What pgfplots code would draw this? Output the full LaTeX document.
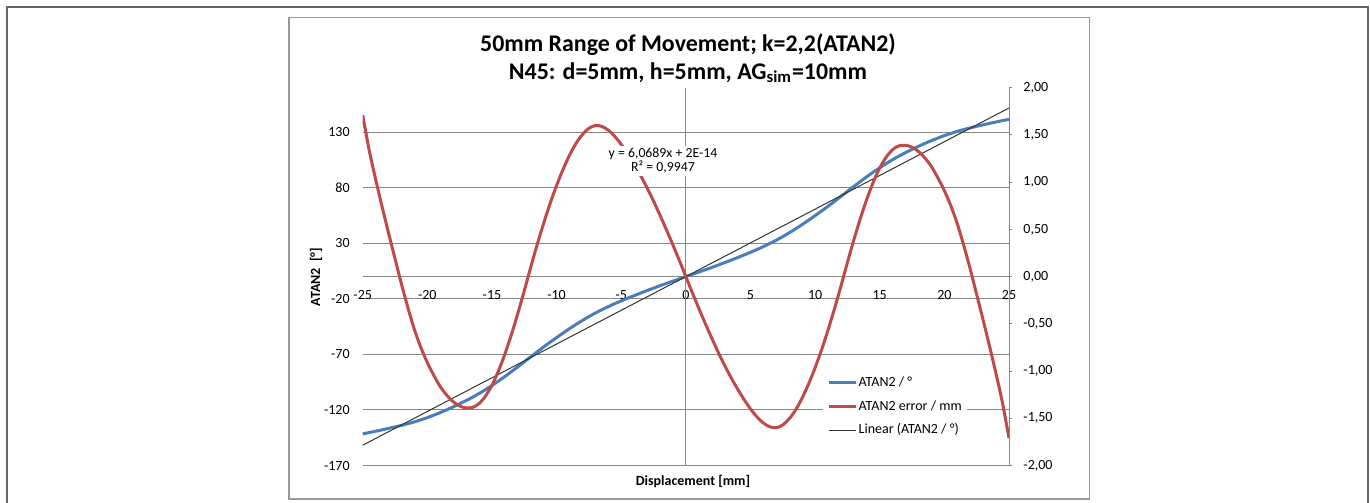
\documentclass[border=0pt]{standalone}
\usepackage{pgfplots}
\pgfplotsset{compat=1.18}
\usepackage{pgfplotstable}
\usepackage{fontspec}
\setmainfont{Carlito}
\definecolor{xlblue}{RGB}{74,126,187}
\definecolor{xlred}{RGB}{190,75,72}
\definecolor{gridgray}{RGB}{134,134,134}

% ATAN2 / degrees
\pgfplotstableread{
x y
-25 -141.50
-24.5 -140.35
-24 -139.15
-23.5 -137.90
-23 -136.60
-22.5 -135.25
-22 -133.85
-21.5 -132.35
-21 -130.75
-20.5 -128.87
-20 -126.92
-19.5 -124.68
-19 -122.37
-18.5 -119.88
-18 -117.27
-17.5 -114.48
-17 -111.57
-16.5 -108.53
-16 -105.25
-15.5 -101.73
-15 -97.97
-14.5 -94.02
-14 -89.90
-13.5 -85.59
-13 -81.22
-12.5 -76.72
-12 -72.17
-11.5 -67.68
-11 -63.31
-10.5 -59.00
-10 -54.87
-9.5 -50.81
-9 -46.86
-8.5 -43.04
-8 -39.46
-7.5 -35.99
-7 -32.78
-6.5 -29.80
-6 -27.01
-5.5 -24.34
-5 -21.85
-4.5 -19.42
-4 -17.12
-3.5 -14.81
-3 -12.56
-2.5 -10.38
-2 -8.19
-1.5 -6.13
-1 -4.07
-0.5 -2.00
0 0
0.5 2.00
1 4.07
1.5 6.13
2 8.19
2.5 10.38
3 12.56
3.5 14.81
4 17.12
4.5 19.42
5 21.85
5.5 24.34
6 27.01
6.5 29.80
7 32.78
7.5 35.99
8 39.46
8.5 43.04
9 46.86
9.5 50.81
10 54.87
10.5 59.00
11 63.31
11.5 67.68
12 72.17
12.5 76.72
13 81.22
13.5 85.59
14 89.90
14.5 94.02
15 97.97
15.5 101.73
16 105.25
16.5 108.53
17 111.57
17.5 114.48
18 117.27
18.5 119.88
19 122.37
19.5 124.68
20 126.92
20.5 128.87
21 130.75
21.5 132.35
22 133.85
22.5 135.25
23 136.60
23.5 137.90
24 139.15
24.5 140.35
25 141.50
}\bluedata

% ATAN2 error / mm
\pgfplotstableread{
x y
-25 1.71
-24.5 1.34
-24 1.03
-23.5 0.74
-23 0.46
-22.5 0.19
-22 -0.08
-21.5 -0.33
-21 -0.56
-20.5 -0.75
-20 -0.91
-19.5 -1.045
-19 -1.165
-18.5 -1.255
-18 -1.325
-17.5 -1.37
-17 -1.39
-16.5 -1.385
-16 -1.345
-15.5 -1.265
-15 -1.15
-14.5 -1.00
-14 -0.82
-13.5 -0.615
-13 -0.39
-12.5 -0.15
-12 0.10
-11.5 0.34
-11 0.565
-10.5 0.775
-10 0.965
-9.5 1.135
-9 1.285
-8.5 1.41
-8 1.505
-7.5 1.57
-7 1.60
-6.5 1.59
-6 1.55
-5.5 1.485
-5 1.40
-4.5 1.30
-4 1.19
-3.5 1.07
-3 0.94
-2.5 0.80
-2 0.65
-1.5 0.495
-1 0.335
-0.5 0.17
0 0
0.5 -0.17
1 -0.335
1.5 -0.495
2 -0.65
2.5 -0.80
3 -0.94
3.5 -1.07
4 -1.19
4.5 -1.30
5 -1.40
5.5 -1.485
6 -1.55
6.5 -1.59
7 -1.60
7.5 -1.57
8 -1.505
8.5 -1.41
9 -1.285
9.5 -1.135
10 -0.965
10.5 -0.775
11 -0.565
11.5 -0.34
12 -0.10
12.5 0.15
13 0.39
13.5 0.615
14 0.82
14.5 1.00
15 1.15
15.5 1.265
16 1.345
16.5 1.385
17 1.39
17.5 1.37
18 1.325
18.5 1.255
19 1.165
19.5 1.045
20 0.91
20.5 0.75
21 0.56
21.5 0.33
22 0.08
22.5 -0.19
23 -0.46
23.5 -0.74
24 -1.03
24.5 -1.34
25 -1.71
}\reddata

\newcommand{\tickfont}{\fontsize{7}{8}\selectfont}

\begin{document}
\begin{tikzpicture}
\path[use as bounding box] (0pt,0pt) rectangle (685pt,-251.5pt);
% outer frame
\draw[black!60, line width=1pt] (3.65pt,-262pt) -- (3.65pt,-3.65pt) -- (684.15pt,-3.65pt) -- (684.15pt,-262pt);
% chart area
\draw[black!40, line width=0.6pt] (144.5pt,-8.65pt) rectangle (544.65pt,-249.5pt);

\begin{axis}[
  at={(181.35pt,-232.75pt)}, anchor=south west,
  scale only axis, width=323.15pt, height=188.9pt,
  xmin=-25, xmax=25, ymin=-170, ymax=170, enlargelimits=false,
  axis x line*=middle, axis y line*=left,
  x axis line style={gridgray, line width=0.5pt},
  y axis line style={draw=none},
  xtick={-25,-20,...,25}, ytick={-170,-120,-70,-20,30,80,130},
  major tick length=0pt,
  hide obscured x ticks=false,
  ymajorgrids, grid style={gridgray, line width=0.5pt},
  /pgf/number format/assume math mode=true,
  tick label style={font=\tickfont},
  x tick label style={yshift=-3.5pt},
  y tick label style={xshift=-3pt},
]
\draw[gridgray, line width=0.5pt] (axis cs:0,-170) -- (axis cs:0,170);
\addplot[xlblue, line width=1.5pt, line join=round, smooth, tension=0.5] table {\bluedata};
\addplot[black!80, line width=0.5pt] coordinates {(-25,-151.72) (25,151.72)};
\end{axis}

\begin{axis}[
  at={(181.35pt,-232.75pt)}, anchor=south west,
  scale only axis, width=323.15pt, height=188.9pt,
  xmin=-25, xmax=25, ymin=-2, ymax=2, enlargelimits=false,
  axis y line*=right, axis x line=none,
  y axis line style={gridgray, line width=0.5pt},
  xtick=\empty, ytick={-2,-1.5,-1,-0.5,0,0.5,1,1.5,2},
  tick align=outside, major tick length=1.5pt,
  tick style={gridgray, line width=0.5pt},
  /pgf/number format/assume math mode=true,
  yticklabel style={font=\tickfont, xshift=2.2pt,
    /pgf/number format/fixed, /pgf/number format/fixed zerofill,
    /pgf/number format/precision=2, /pgf/number format/use comma},
  legend style={at={(0.712,0.255)}, anchor=north west, draw=none, fill=white,
    font=\tickfont, row sep=2.4pt, inner xsep=2pt, inner ysep=2pt,
    nodes={inner xsep=0.7pt, inner ysep=1.5pt, text height=5pt, text depth=1.4pt}},
  legend cell align=left,
  legend image code/.code={\draw[#1] (0pt,0pt) -- (13.5pt,0pt);},
]
\addlegendimage{xlblue, line width=1.5pt}
\addlegendentry{ATAN2 / °}
\addplot[xlred, line width=1.5pt, line join=round, smooth, tension=0.5] table {\reddata};
\addlegendentry{ATAN2 error / mm}
\addlegendimage{black!80, line width=0.5pt}
\addlegendentry{Linear (ATAN2 / °)}
\end{axis}

% trendline equation
\node[fill=white, inner sep=1pt, align=center, font=\fontsize{6.9}{7}\selectfont] at (331.5pt,-80.5pt) {y = 6,0689x + 2E-14\\R² = 0,9947};
% title
\node[align=center, font=\bfseries\fontsize{11.95}{14}\selectfont] at (344pt,-29pt) {50mm Range of Movement; k=2,2(ATAN2)\\N45: d=5mm, h=5mm, AG\textsubscript{sim}=10mm};
% axis labels
\node[font=\bfseries\fontsize{7}{8}\selectfont] at (346.5pt,-240.5pt) {Displacement [mm]};
\node[font=\bfseries\fontsize{7}{8}\selectfont, rotate=90] at (158pt,-138.5pt) {ATAN2\ \ [°]};
\end{tikzpicture}
\end{document}
